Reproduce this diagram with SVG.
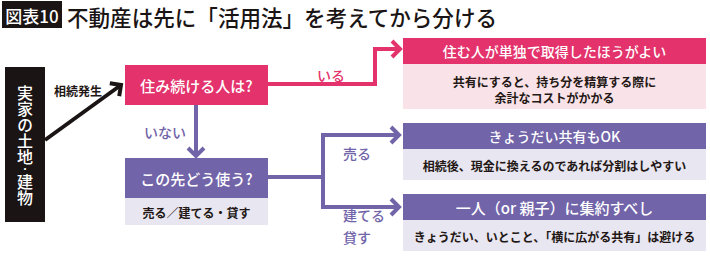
<svg xmlns="http://www.w3.org/2000/svg" width="710" height="259" viewBox="0 0 710 259">
<style>
text{font-family:"Noto Sans CJK JP","Noto Sans",sans-serif;}
.w{fill:#fff;font-weight:500;text-anchor:middle;dominant-baseline:central;}
.d{fill:#231815;font-weight:700;font-size:12px;text-anchor:middle;dominant-baseline:central;}
.pk{fill:#e3326c;}
.pl{fill:#fae3e8;}
.pu{fill:#7164a9;}
.ll{fill:#e8e6f0;}
.cp{fill:none;stroke:#e3326c;stroke-width:4;}
.cv{fill:none;stroke:#7164a9;stroke-width:4;}
.cb{fill:none;stroke:#1a1414;stroke-width:4;}
.lab{font-size:14px;font-weight:500;dominant-baseline:central;}
</style>
<defs>
<marker id="ap" viewBox="-12 -12 16 24" refX="0" refY="0" markerWidth="16" markerHeight="24" markerUnits="userSpaceOnUse" orient="auto">
<path d="M-8,-8 L0,0 L-8,8" fill="none" stroke="#e3326c" stroke-width="4"/>
</marker>
<marker id="av" viewBox="-12 -12 16 24" refX="0" refY="0" markerWidth="16" markerHeight="24" markerUnits="userSpaceOnUse" orient="auto">
<path d="M-8,-8 L0,0 L-8,8" fill="none" stroke="#7164a9" stroke-width="4"/>
</marker>
<marker id="ab" viewBox="-12 -12 16 24" refX="0" refY="0" markerWidth="16" markerHeight="24" markerUnits="userSpaceOnUse" orient="auto">
<path d="M-8,-8 L0,0 L-8,8" fill="none" stroke="#1a1414" stroke-width="4"/>
</marker>
</defs>
<rect width="710" height="259" fill="#fff"/>
<g id="title">
<rect x="2" y="1" width="60" height="27" fill="#1a1414"/>
<text x="32" y="15" class="w" font-size="17">図表10</text>
<text x="67" y="16" font-size="22" fill="#1a1414" font-weight="500" dominant-baseline="central" textLength="430" lengthAdjust="spacingAndGlyphs">不動産は先に「活用法」を考えてから分ける</text>
</g>
<g id="connectors">
<path class="cb" d="M45,140 L121,85" marker-end="url(#ab)"/>
<path class="cp" d="M268,84 H375 V49 H400" marker-end="url(#ap)"/>
<path class="cv" d="M196,105 V156" marker-end="url(#av)"/>
<path class="cv" d="M268,177 H323"/>
<path class="cv" d="M323,177 V135 H399" marker-end="url(#av)"/>
<path class="cv" d="M323,177 V207 H399" marker-end="url(#av)"/>
<text x="78" y="90" class="d" font-weight="500">相続発生</text>
<text x="331" y="75" class="lab pk" text-anchor="middle" font-weight="700">いる</text>
<text x="165" y="132" class="lab pu" text-anchor="middle">いない</text>
<text x="343" y="153" class="lab pu">売る</text>
<text x="343" y="215" class="lab pu">建てる</text>
<text x="343" y="237" class="lab pu">貸す</text>
</g>
<g id="n-house">
<rect x="5" y="67" width="40" height="155" fill="#1a1414"/>
<text x="25" y="145" fill="#fff" font-weight="500" font-size="16" writing-mode="vertical-rl" text-anchor="middle">実家の土地<tspan font-size="9">・</tspan>建物</text>
</g>
<g id="n-live">
<rect x="125" y="65" width="143" height="40" class="pk"/>
<text x="196.5" y="85" class="w" font-size="15">住み続ける人は?</text>
</g>
<g id="n-use">
<rect x="125" y="158" width="143" height="40" class="pu"/>
<rect x="125" y="198" width="143" height="27" class="ll"/>
<text x="196.5" y="178" class="w" font-size="15">この先どう使う?</text>
<text x="196.5" y="212" class="d">売る／建てる・貸す</text>
</g>
<g id="n-single">
<rect x="403" y="38" width="303" height="26" class="pk"/>
<rect x="403" y="64" width="303" height="45" class="pl"/>
<text x="554.5" y="51" class="w" font-size="14">住む人が単独で取得したほうがよい</text>
<text x="554.5" y="81" class="d">共有にすると、持ち分を精算する際に</text>
<text x="554.5" y="97" class="d">余計なコストがかかる</text>
</g>
<g id="n-ok">
<rect x="403" y="123" width="303" height="26" class="pu"/>
<rect x="403" y="149" width="303" height="31" class="ll"/>
<text x="554.5" y="136" class="w" font-size="14">きょうだい共有もOK</text>
<text x="554.5" y="165" class="d">相続後、現金に換えるのであれば分割はしやすい</text>
</g>
<g id="n-one">
<rect x="403" y="194" width="303" height="26" class="pu"/>
<rect x="403" y="220" width="303" height="31" class="ll"/>
<text x="554.5" y="207" class="w" font-size="15">一人（or 親子）に集約すべし</text>
<text x="554.5" y="236" class="d">きょうだい、いとこと、「横に広がる共有」は避ける</text>
</g>
</svg>
